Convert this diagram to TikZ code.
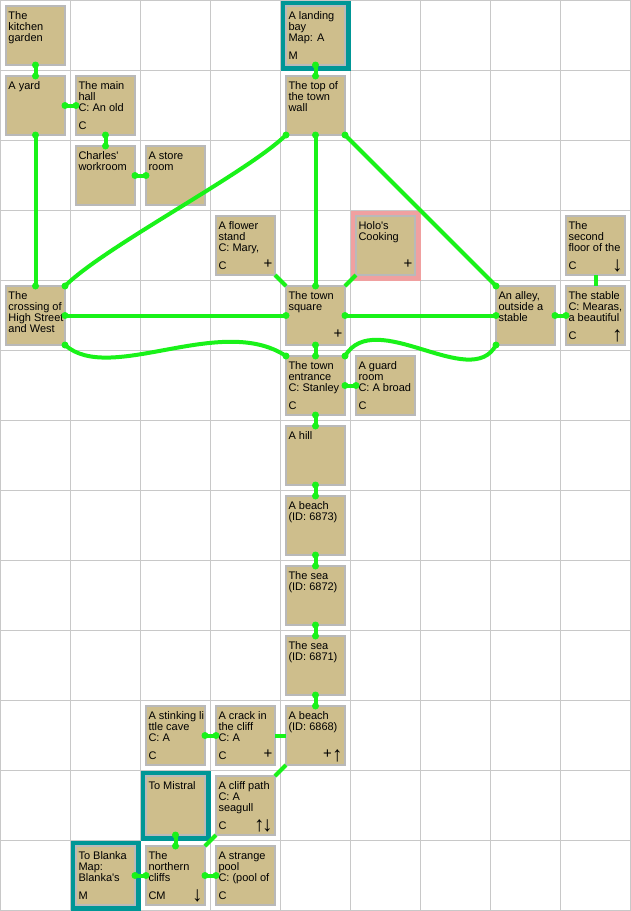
\documentclass[tikz,border=0pt]{standalone}
\usepackage{fontspec}
\setmainfont{Liberation Sans}
\definecolor{roomtan}{RGB}{206,190,140}
\definecolor{roomedge}{RGB}{185,185,185}
\definecolor{gridgray}{RGB}{200,200,200}
\definecolor{exitgreen}{RGB}{25,242,25}
\definecolor{mapteal}{RGB}{0,150,150}
\definecolor{holopink}{RGB}{240,160,160}
\tikzset{
 roombox/.style={draw=roomedge, line width=1.5pt, fill=roomtan, minimum size=59pt, inner sep=0pt, outer sep=0pt},
 roomtext/.style={anchor=base west, inner sep=0pt, outer sep=0pt, font=\fontsize{11}{11}\selectfont},
 roomsym/.style={anchor=base east, inner sep=0pt, outer sep=0pt, font=\fontsize{15}{15}\selectfont},
 mapexit/.style={draw=mapteal, line width=5pt, minimum size=65pt, inner sep=0pt, outer sep=0pt},
 holomark/.style={draw=holopink, line width=5pt, minimum size=65pt, inner sep=0pt, outer sep=0pt},
 link/.style={draw=exitgreen, line width=4pt},
 exitdot/.style={fill=exitgreen},
 gridline/.style={draw=gridgray, line width=1pt},
}
\newcommand{\mkroom}[4]{%
  \node[roombox] (#1) at ({#2*70+35},{#3*70+35}) {};
  \node[roomtext] (#1-txt) at ({#2*70+8},{#3*70+19}) {\parbox[t]{70pt}{\raggedright #4}};}
\newcommand{\mkbl}[4]{\node[roomtext] (#1-bl) at ({#2*70+8},{#3*70+59}) {#4};}
\newcommand{\mkbr}[4]{\node[roomsym] (#1-br) at ({#2*70+62},{#3*70+58}) {#4};}
\newcommand{\arr}[1]{{\fontsize{21}{21}\selectfont\raisebox{-2.5pt}{#1}}}
\newcommand{\exitdots}[2]{\fill[exitdot] (#1) circle[radius=3.5pt]; \fill[exitdot] (#2) circle[radius=3.5pt];}
\newcommand{\twoway}[2]{\draw[link] (#1) -- (#2); \exitdots{#1}{#2}}
\begin{document}
\begin{tikzpicture}[x=1pt,y=-1pt]
\useasboundingbox (-0.5,-0.5) rectangle (630.5,910.5);
\fill[white] (-0.5,-0.5) rectangle (630.5,910.5);
% grid
\foreach \i in {0,...,9} \draw[gridline] ({\i*70},0) -- ({\i*70},910);
\foreach \j in {0,...,13} \draw[gridline] (0,{\j*70}) -- (630,{\j*70});
% highlights
\node[mapexit] (lb-hl) at (315,35) {};
\node[mapexit] (mi-hl) at (175,805) {};
\node[mapexit] (bl-hl) at (105,875) {};
\node[holomark] (hc-hl) at (385,245) {};
% rooms
\mkroom{kg}{0}{0}{The\\kitchen\\garden}
\mkroom{lb}{4}{0}{A landing\\bay\\Map: A}
\mkbl{lb}{4}{0}{M}
\mkroom{yard}{0}{1}{A yard}
\mkroom{mh}{1}{1}{The main\\hall\\C: An old}
\mkbl{mh}{1}{1}{C}
\mkroom{tw}{4}{1}{The top of\\the town\\wall}
\mkroom{cw}{1}{2}{Charles\textquotesingle\\workroom}
\mkroom{sr}{2}{2}{A store\\room}
\mkroom{fs}{3}{3}{A flower\\stand\\C: Mary,}
\mkbl{fs}{3}{3}{C}
\mkbr{fs}{3}{3}{+}
\mkroom{hc}{5}{3}{Holo\textquotesingle s\\Cooking}
\mkbr{hc}{5}{3}{+}
\mkroom{sf}{8}{3}{The\\second\\floor of the}
\mkbl{sf}{8}{3}{C}
\mkbr{sf}{8}{3}{\arr{↓}}
\mkroom{cr}{0}{4}{The\\crossing of\\High Street\\and West}
\mkroom{ts}{4}{4}{The town\\square}
\mkbr{ts}{4}{4}{+}
\mkroom{al}{7}{4}{An alley,\\outside a\\stable}
\mkroom{st}{8}{4}{The stable\\C: Mearas,\\a beautiful}
\mkbl{st}{8}{4}{C}
\mkbr{st}{8}{4}{\arr{↑}}
\mkroom{te}{4}{5}{The town\\entrance\\C: Stanley}
\mkbl{te}{4}{5}{C}
\mkroom{gr}{5}{5}{A guard\\room\\C: A broad}
\mkbl{gr}{5}{5}{C}
\mkroom{hill}{4}{6}{A hill}
\mkroom{b73}{4}{7}{A beach\\(ID: 6873)}
\mkroom{s72}{4}{8}{The sea\\(ID: 6872)}
\mkroom{s71}{4}{9}{The sea\\(ID: 6871)}
\mkroom{sc}{2}{10}{A stinking li\\ttle cave\\C: A}
\mkbl{sc}{2}{10}{C}
\mkroom{ck}{3}{10}{A crack in\\the cliff\\C: A}
\mkbl{ck}{3}{10}{C}
\mkbr{ck}{3}{10}{+}
\mkroom{b68}{4}{10}{A beach\\(ID: 6868)}
\mkbr{b68}{4}{10}{+\arr{↑}}
\mkroom{mi}{2}{11}{To Mistral}
\mkroom{cp}{3}{11}{A cliff path\\C: A\\seagull}
\mkbl{cp}{3}{11}{C}
\mkbr{cp}{3}{11}{\arr{↑\kern-2.5pt↓}}
\mkroom{bl}{1}{12}{To Blanka\\Map:\\Blanka\textquotesingle s}
\mkbl{bl}{1}{12}{M}
\mkroom{nc}{2}{12}{The\\northern\\cliffs}
\mkbl{nc}{2}{12}{CM}
\mkbr{nc}{2}{12}{\arr{↓}}
\mkroom{sp}{3}{12}{A strange\\pool\\C: (pool of}
\mkbl{sp}{3}{12}{C}
% links drawn without end dots
\draw[link] (fs.south east) -- (ts.north west);
\draw[link] (hc.south west) -- (ts.north east);
\draw[link] (sf.south) -- (st.north);
\draw[link] (ck.east) -- (b68.west);
\draw[link] (b68.south west) -- (cp.north east);
\draw[link] (cp.south west) -- (nc.north east);
% two-way links
\twoway{kg.south}{yard.north}
\twoway{yard.east}{mh.west}
\twoway{mh.south}{cw.north}
\twoway{cw.east}{sr.west}
\twoway{lb.south}{tw.north}
\twoway{yard.south}{cr.north}
\draw[link] (tw.south west) .. controls +(-39,38) and +(39,-39) .. (cr.north east);
\exitdots{tw.south west}{cr.north east}
\twoway{tw.south}{ts.north}
\twoway{tw.south east}{al.north west}
\twoway{cr.east}{ts.west}
\twoway{ts.east}{al.west}
\draw[link] (cr.south east) .. controls +(45,40) and +(-65,-43) .. (te.north west);
\exitdots{cr.south east}{te.north west}
\draw[link] (te.north east) .. controls +(30,-50) and +(-25,47) .. (al.south west);
\exitdots{te.north east}{al.south west}
\twoway{al.east}{st.west}
\twoway{ts.south}{te.north}
\twoway{te.east}{gr.west}
\twoway{te.south}{hill.north}
\twoway{hill.south}{b73.north}
\twoway{b73.south}{s72.north}
\twoway{s72.south}{s71.north}
\twoway{s71.south}{b68.north}
\twoway{sc.east}{ck.west}
\twoway{mi.south}{nc.north}
\twoway{bl.east}{nc.west}
\twoway{nc.east}{sp.west}
\end{tikzpicture}
\end{document}
